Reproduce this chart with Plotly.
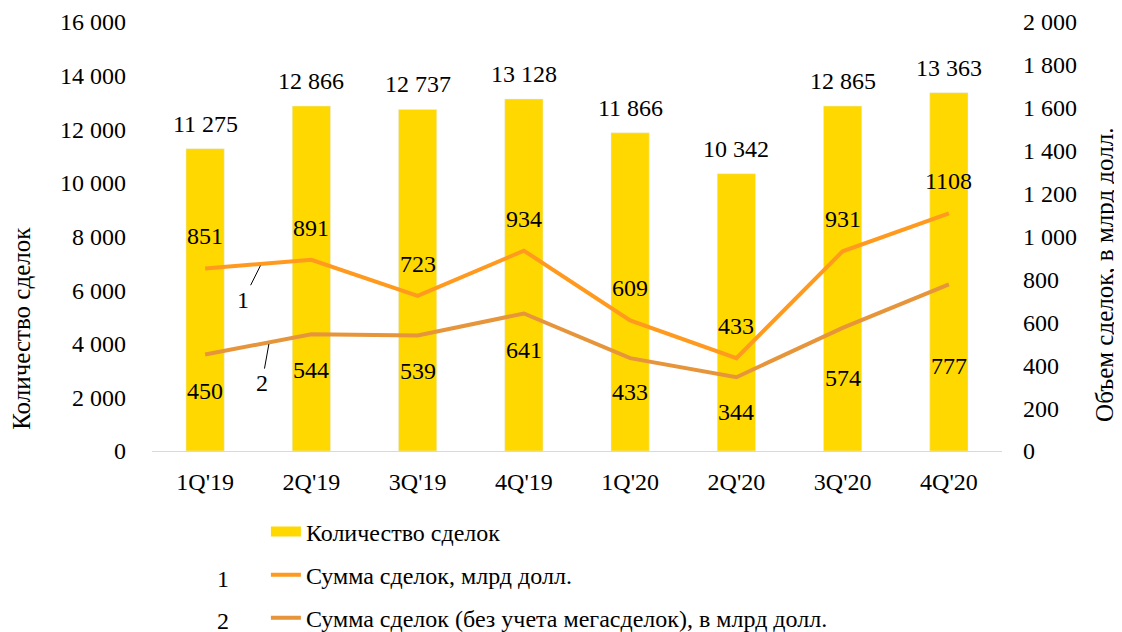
import plotly.graph_objects as go

categories = ["1Q'19", "2Q'19", "3Q'19", "4Q'19", "1Q'20", "2Q'20", "3Q'20", "4Q'20"]
deal_count = [11275, 12866, 12737, 13128, 11866, 10342, 12865, 13363]
deal_sum = [851, 891, 723, 934, 609, 433, 931, 1108]
deal_sum_ex_mega = [450, 544, 539, 641, 433, 344, 574, 777]
count_labels = ["11 275", "12 866", "12 737", "13 128", "11 866", "10 342", "12 865", "13 363"]
sum_labels = ["851", "891", "723", "934", "609", "433", "931", "1108"]
ex_mega_labels = ["450", "544", "539", "641", "433", "344", "574", "777"]
ex_mega_shift = [-37, -36, -36, -36, -34, -35, -50, -82]

FONT = "Liberation Serif"
YELLOW = "#FFD800"
ORANGE1 = "#FF9A1F"
ORANGE2 = "#E6953A"
FS = 24

fig = go.Figure()
fig.add_trace(go.Bar(x=categories, y=deal_count, marker_color=YELLOW, width=0.36,
                     showlegend=False, yaxis="y"))
fig.add_trace(go.Scatter(x=categories, y=deal_sum, mode="lines",
                         line=dict(color=ORANGE1, width=4), showlegend=False, yaxis="y2"))
fig.add_trace(go.Scatter(x=categories, y=deal_sum_ex_mega, mode="lines",
                         line=dict(color=ORANGE2, width=4), showlegend=False, yaxis="y2"))

# legend entries
fig.add_trace(go.Scatter(x=[None], y=[None], mode="lines", line=dict(color=YELLOW, width=15),
                         name="Количество сделок", legendgroup="a"))
fig.add_trace(go.Scatter(x=[None], y=[None], mode="lines", line=dict(color=ORANGE1, width=4),
                         name="Сумма сделок, млрд долл.", legendgroup="b"))
fig.add_trace(go.Scatter(x=[None], y=[None], mode="lines", line=dict(color=ORANGE2, width=4),
                         name="Сумма сделок (без учета мегасделок), в млрд долл.", legendgroup="c"))

ann = []
lab_font = dict(family=FONT, size=FS, color="black")
for c, v, t in zip(categories, deal_count, count_labels):
    ann.append(dict(x=c, y=v, xref="x", yref="y", text=t, showarrow=False,
                    yshift=25, font=lab_font))
for c, v, t in zip(categories, deal_sum, sum_labels):
    ann.append(dict(x=c, y=v, xref="x", yref="y2", text=t, showarrow=False,
                    yshift=32, font=lab_font))
for c, v, t, s in zip(categories, deal_sum_ex_mega, ex_mega_labels, ex_mega_shift):
    ann.append(dict(x=c, y=v, xref="x", yref="y2", text=t, showarrow=False,
                    yshift=s, font=lab_font))

# leader labels 1 and 2
ann.append(dict(x=0.52, y=deal_sum[0] + (deal_sum[1] - deal_sum[0]) * 0.52 - 8, xref="x", yref="y2",
                text="1", showarrow=True, arrowhead=0, arrowwidth=1, arrowcolor="black",
                ax=-17, ay=34, font=dict(family=FONT, size=FS, color="black")))
ann.append(dict(x=0.6, y=deal_sum_ex_mega[0] + (deal_sum_ex_mega[1] - deal_sum_ex_mega[0]) * 0.6 - 8,
                xref="x", yref="y2",
                text="2", showarrow=True, arrowhead=0, arrowwidth=1, arrowcolor="black",
                ax=-7, ay=39, font=dict(family=FONT, size=FS, color="black")))

# legend numbers
for yy, t in [(-0.299, "1"), (-0.396, "2")]:
    ann.append(dict(x=0.0835, y=yy, xref="paper", yref="paper", text=t, showarrow=False,
                    xanchor="center", yanchor="middle",
                    font=dict(family=FONT, size=FS, color="black")))

# axis titles
ann.append(dict(x=-0.153, y=0.287, xref="paper", yref="paper", text="Количество сделок",
                showarrow=False, textangle=-90, xanchor="center", yanchor="middle",
                font=dict(family=FONT, size=25, color="black")))
ann.append(dict(x=1.138, y=0.41, xref="paper", yref="paper", text="Объем сделок, в млрд долл.",
                showarrow=False, textangle=-90, xanchor="right", yanchor="middle",
                font=dict(family=FONT, size=25, color="black")))

fig.update_layout(
    width=1122, height=632,
    margin=dict(l=144, r=128, t=14, b=189, autoexpand=False),
    paper_bgcolor="white", plot_bgcolor="white",
    separators=". ",
    font=dict(family=FONT, size=FS, color="black"),
    xaxis=dict(showgrid=False, showline=True, linecolor="#D9D9D9", linewidth=1,
               ticks="", ticklabelstandoff=9, tickfont=dict(family=FONT, size=FS)),
    yaxis=dict(range=[0, 16000], dtick=2000, tickformat=",d", showgrid=False, zeroline=False,
               showline=False, ticks="", ticklabelstandoff=25, tickfont=dict(family=FONT, size=FS)),
    yaxis2=dict(range=[0, 2000], dtick=200, tickformat=",d", overlaying="y", side="right",
                showgrid=False, zeroline=False, showline=False, ticks="", ticklabelstandoff=20,
                tickfont=dict(family=FONT, size=FS)),
    legend=dict(x=0.134, y=-0.136, xanchor="left", yanchor="top", orientation="v",
                tracegroupgap=9, traceorder="grouped",
                font=dict(family=FONT, size=FS, color="black"), bgcolor="rgba(0,0,0,0)"),
    annotations=ann,
    bargap=0.64,
)

fig.write_html("out.html")
